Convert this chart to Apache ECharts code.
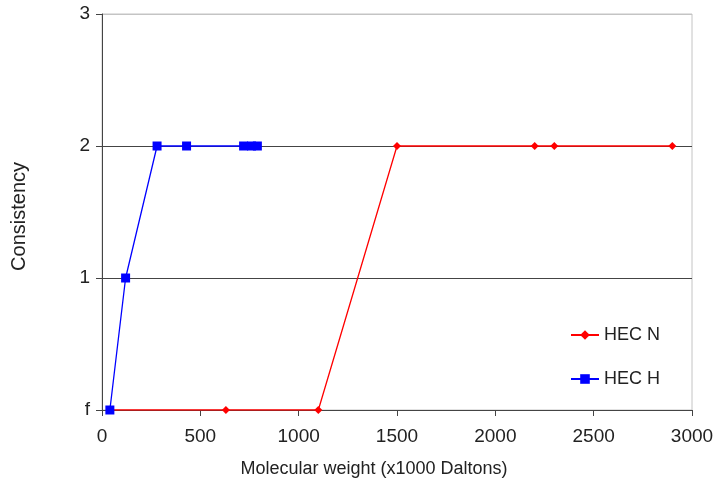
<!DOCTYPE html>
<html>
<head>
<meta charset="utf-8">
<script src="https://cdn.jsdelivr.net/npm/echarts@6/dist/echarts.min.js"></script>
<style>html,body{margin:0;padding:0;background:#fff}#c{width:719px;height:486px}</style>
</head>
<body>
<div id="c"></div>
<script>
var hecN = [[40,0],[630,0],[1100,0],[1500,2],[2200,2],[2300,2],[2900,2]];
var hecH = [[40,0],[120,1],[280,2],[430,2],[720,2],[760,2],[790,2]];
var yTickLabels = ['f','1','2','3'];
var xTitle = 'Molecular weight (x1000 Daltons)';
var yTitle = 'Consistency';

var chart = echarts.init(document.getElementById('c'));
var font = 'Liberation Sans, Arial, sans-serif';
chart.setOption({
  animation: false,
  backgroundColor: '#fff',
  title: [
    {text: xTitle, left: 369, top: 455, textAlign: 'center',
     textStyle: {fontFamily: font, fontSize: 18, fontWeight: 'normal', color: '#222'}}
  ],
  graphic: [
    {type: 'text', left: 9, top: 162, rotation: Math.PI/2,
     style: {text: yTitle, fontFamily: font, fontSize: 20, fill: '#222'}}
  ],
  grid: {left: 102, right: 27, top: 14, bottom: 76, show: true, borderColor: '#c4c4c4', borderWidth: 1},
  legend: {
    orient: 'vertical', left: 565, top: 321, itemGap: 26, itemWidth: 28, itemHeight: 12,
    textStyle: {fontFamily: font, fontSize: 18, color: '#222'},
    data: ['HEC N', 'HEC H']
  },
  xAxis: {
    type: 'value', min: 0, max: 3000, interval: 500,
    axisLine: {show: true, lineStyle: {color: '#444', width: 1}},
    axisTick: {show: true, length: 6, lineStyle: {color: '#444'}},
    axisLabel: {fontFamily: font, fontSize: 19, color: '#222', margin: 17,
      formatter: function (v) { return String(v); }},
    splitLine: {show: false}
  },
  yAxis: {
    type: 'value', min: 0, max: 3, interval: 1,
    axisLine: {show: true, lineStyle: {color: '#444', width: 1}},
    axisTick: {show: true, length: 6, lineStyle: {color: '#444'}},
    axisLabel: {fontFamily: font, fontSize: 19, color: '#222', margin: 12,
      formatter: function (v) { return yTickLabels[v]; }},
    splitLine: {show: true, lineStyle: {color: ['#444','#444','#444','#c4c4c4'], width: 1}}
  },
  series: [
    {name: 'HEC N', type: 'line', data: hecN, symbol: 'diamond', symbolSize: 8,
     itemStyle: {color: '#ff0000'}, lineStyle: {color: '#ff0000', width: 1.3}, z: 2},
    {name: 'HEC H', type: 'line', data: hecH, symbol: 'rect', symbolSize: 9,
     itemStyle: {color: '#0000ff'}, lineStyle: {color: '#0000ff', width: 1.3}, z: 3}
  ]
});
</script>
</body>
</html>
